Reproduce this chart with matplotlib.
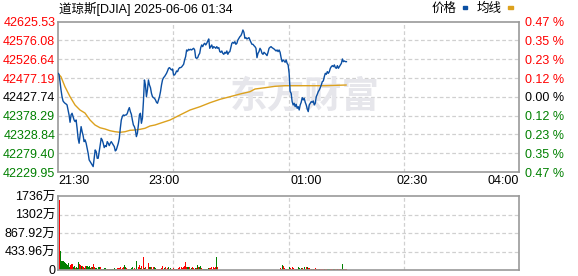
import numpy as np
import matplotlib
matplotlib.use("Agg")
import matplotlib.pyplot as plt
from matplotlib.patches import Rectangle

plt.rcParams['font.family'] = ['Liberation Sans', 'Noto Sans CJK SC', 'DejaVu Sans']

# ==========================================
# 数据
# ==========================================
PREV_CLOSE = 42427.74
SESSION_MIN = 390      # 21:30 -> 04:00
LAST_MIN = 244         # 01:34

price_ticks = [42625.53, 42576.08, 42526.64, 42477.19, 42427.74,
               42378.29, 42328.84, 42279.40, 42229.95]
pct_labels = ["0.47 %", "0.35 %", "0.23 %", "0.12 %", "0.00 %",
              "0.12 %", "0.23 %", "0.35 %", "0.47 %"]
time_labels = ["21:30", "23:00", "01:00", "02:30", "04:00"]
time_label_min = [0, 90, 210, 300, 390]
vol_ticks = [0, 433.96, 867.92, 1301.88, 1735.84]
vol_labels = ["0", "433.96万", "867.92万", "1302万", "1736万"]

price_a = [42489.7, 42487.1, 42467.8, 42445.9, 42428.3, 42416.9, 42413.4, 42410.8, 42409.0, 42406.4,
           42393.2, 42380.1, 42360.8, 42380.1, 42384.5, 42375.7, 42366.9, 42362.6, 42366.9, 42345.0,
           42318.7, 42305.6, 42327.5, 42349.4, 42336.2, 42325.7, 42309.9, 42314.3, 42305.6, 42292.4,
           42279.2, 42261.7, 42257.3, 42252.9, 42248.6, 42244.2, 42266.1, 42288.0, 42283.6, 42266.1,
           42266.1, 42283.6, 42301.2, 42318.7, 42314.3, 42305.6, 42294.2, 42299.4, 42296.8, 42309.9,
           42305.6, 42299.4, 42305.6, 42309.9, 42305.6, 42301.2, 42296.8, 42285.4, 42288.0, 42296.8,
           42305.6, 42318.7, 42345.0, 42366.9, 42375.7, 42380.1, 42378.3, 42380.1, 42380.1, 42384.5,
           42393.2, 42399.4, 42388.9, 42381.9, 42366.9, 42353.8, 42349.4, 42340.6, 42323.1, 42331.9,
           42353.8, 42380.1, 42384.5, 42358.2, 42371.3, 42415.2, 42472.2, 42459.0, 42428.3, 42445.9,
           42472.2]
price_b = [42459.0, 42452.0, 42437.1, 42428.3, 42425.7, 42423.9, 42419.6, 42413.4, 42410.8, 42419.6,
           42428.3, 42441.5, 42459.0, 42472.2, 42478.3, 42481.0, 42485.3, 42489.7, 42495.9, 42502.9,
           42504.6, 42501.1, 42498.5, 42501.1, 42485.3, 42485.3, 42489.7, 42495.9, 42494.1, 42501.1,
           42504.6, 42504.6, 42506.4, 42509.9, 42513.4, 42524.8, 42533.6, 42551.1, 42548.5, 42552.9,
           42551.1, 42552.9, 42551.1, 42553.7, 42555.5, 42551.1, 42530.9, 42529.2, 42530.9, 42538.0,
           42542.3, 42557.3, 42564.3, 42559.9, 42566.0, 42568.7, 42564.3, 42568.7, 42574.8, 42580.1,
           42555.5, 42559.9, 42564.3, 42555.5, 42559.9, 42558.1, 42555.5, 42559.9, 42555.5, 42557.3,
           42546.7, 42545.0, 42548.5, 42542.3, 42539.7, 42545.0, 42542.3, 42548.5, 42539.7, 42545.0,
           42546.7, 42557.3, 42568.7, 42571.3, 42568.7, 42573.0, 42566.0, 42568.7, 42577.4, 42581.8,
           42586.2, 42588.8, 42595.0, 42603.7, 42597.6]
price_c = [42581.8, 42583.6, 42580.1, 42581.8, 42583.6, 42577.4, 42571.3, 42566.0, 42566.0, 42562.5,
           42559.9, 42555.5, 42530.9, 42542.3, 42546.7, 42555.5, 42551.1, 42542.3, 42539.7, 42545.0,
           42542.3, 42539.7, 42536.2, 42545.0, 42555.5, 42558.1, 42559.9, 42557.3, 42555.5, 42553.7,
           42551.1, 42548.5, 42551.1, 42546.7, 42551.1, 42545.0, 42530.9, 42520.4, 42524.8, 42522.2,
           42518.7, 42524.8, 42516.0, 42511.7, 42489.7, 42441.5, 42437.1, 42415.2, 42406.4, 42410.8,
           42402.0, 42408.2, 42397.6, 42402.0, 42393.2, 42406.4, 42413.4, 42425.7, 42419.6, 42423.9,
           42413.4, 42406.4, 42395.9, 42388.9, 42406.4, 42410.8, 42415.2, 42413.4, 42416.9, 42406.4,
           42410.8, 42428.3, 42434.5, 42441.5, 42445.9, 42452.0, 42459.0, 42467.8, 42469.6, 42481.0,
           42489.7, 42487.1, 42494.1, 42489.7, 42494.1, 42502.9, 42507.3, 42509.9, 42507.3, 42511.7,
           42504.6, 42502.9, 42509.9, 42502.9, 42507.3, 42511.7, 42516.0, 42527.4, 42520.4, 42522.2,
           42520.4, 42520.4]

# 均线 (分钟, 价格)
avg_min = [0, 2.5, 5.9, 10.2, 14.4, 18.6, 22.8, 27.1, 31.3, 35.5, 39.8, 44.0, 48.2, 52.5,
           56.7, 60.9, 65.1, 69.4, 73.6, 77.8, 82.1, 86.3, 94.8, 103.2, 111.7, 120.1, 128.6,
           137.1, 145.5, 154.0, 162.4, 166.7, 175.1, 183.6, 192.0, 209.0, 225.9, 243.7]
avg_price = [42489.0, 42480.8, 42454.4, 42428.1, 42406.3, 42393.1, 42385.2, 42366.8, 42353.7,
             42346.5, 42343.1, 42338.6, 42336.0, 42334.4, 42336.0, 42339.7, 42340.5, 42342.3,
             42345.0, 42351.0, 42353.7, 42358.1, 42366.8, 42380.0, 42393.1, 42401.8, 42412.3,
             42421.3, 42428.1, 42435.2, 42441.3, 42448.4, 42451.8, 42455.5, 42457.1, 42457.1,
             42457.1, 42458.9]

# 成交量 (万), r = 上涨 / g = 下跌
vol_a = [1640, 434, 200, 200, 200, 185, 169, 145, 128, 161,
         64, 128, 145, 145, 64, 96, 48, 64, 48, 177,
         145, 112, 88, 88, 64, 48, 96, 88, 96, 80,
         104, 48, 64, 64, 145, 80, 48, 48, 32, 72,
         64, 64, 32, 32, 24, 48, 48, 24, 24, 24,
         16, 24, 16, 32, 24, 48, 24, 16, 48, 48,
         48, 72, 24, 48, 64, 120, 80, 48, 24, 32,
         32, 32, 48, 80, 24, 48, 32, 201, 32, 80,
         128, 48, 88, 32, 313, 48, 64, 32, 32, 169,
         72, 64, 72, 32, 64]
dir_a = ("rggggggggg" "grrrggrggg" "rrgrrgrggg" "ggrgrrggrg" "grgrgggrgr"
         "rgggrgggrr" "rrgrrggrrg" "rgggrrggrr" "rgrrrgrgrr" "ggrgr")
vol_b = [64, 48, 32, 24, 24, 24, 24, 48, 96, 32,
         48, 80, 32, 48, 64, 32, 48, 24, 24, 48,
         32, 24, 32, 32, 48, 64, 32, 64, 48, 64,
         88, 193, 64, 64, 64, 64, 32, 48, 64, 48,
         32, 48, 48, 112, 64, 80, 96, 48, 32, 32,
         24, 24, 24, 24, 48, 48, 40, 64, 24, 64,
         48, 72, 313, 72, 32, 32, 64, 24, 128, 40,
         24, 32, 32, 48, 24, 48, 104, 32, 32, 48,
         24, 80, 32, 32, 64, 32, 24, 24, 32, 48,
         32, 64, 96, 48, 32, 32, 48, 32]
dir_b = ("ggrrrrrrrr" "grrrgrgrrr" "grgrrrgrrr" "rrrggrrgrr" "rgrgrggrrg"
         "gggrgrrrgr" "rrgrrgggrr" "rrrgggrrrg" "grgrrgrrgr" "rgggrrgr")
vol_c = [32, 32, 48, 217, 48, 64, 32, 48, 32, 32,
         24, 24, 32, 145, 48, 217, 80, 48, 24, 96,
         64, 48, 32, 32, 32, 24, 32, 48, 32, 112,
         96, 48, 32, 24, 32, 24, 72, 48, 32, 64,
         48, 32, 24, 32, 24, 64, 48, 24, 48, 48,
         32, 64, 32, 64, 64, 48, 48, 32, 32, 24,
         24, 32, 48, 32, 24, 32, 32, 24, 24, 32,
         24, 32, 24, 32, 24, 32, 24, 32, 24, 32,
         32, 24, 32, 24, 24, 32, 24, 32, 24, 145,
         32, 24, 24, 32]
dir_c = ("grrgrgrggg" "rrrgrrrgrg" "grggrrrrgg" "rrggrrgrgr" "rrggrggrgr"
         "rggrgrrrgr" "grrgrrgrrr" "rgrrgggrrr" "ggrrgrrgrg" "grrr")

# ==========================================
# 绘图
# ==========================================
RED = '#ff0000'
GREEN = '#008000'
GRID = '#d0d0d0'
FRAME = '#999999'

price = np.array(price_a + price_b + price_c)
t_price = np.linspace(0, LAST_MIN, len(price))
volume = np.array(vol_a + vol_b + vol_c)
vol_dir = dir_a + dir_b + dir_c
t_vol = np.linspace(1, LAST_MIN, len(volume))
vol_colors = [RED if d == 'r' else GREEN for d in vol_dir]

fig = plt.figure(figsize=(5.78, 2.76), dpi=100)
ax = fig.add_axes([58 / 578, 1 - 172 / 276, 461 / 578, 150.3 / 276])
axv = fig.add_axes([58 / 578, 1 - 270 / 276, 461 / 578, 74 / 276])

grid_x = [SESSION_MIN * k / 4 for k in (1, 2, 3)]


def style_frame(a):
    for s in a.spines.values():
        s.set_color(FRAME)
        s.set_linewidth(1.2)
    a.set_xlim(0, SESSION_MIN)
    for gx in grid_x:
        a.axvline(gx, color=GRID, lw=0.9, ls=(0, (3, 2)), zorder=0)


# --- 价格图 ---
style_frame(ax)
ax.set_ylim(price_ticks[-1], price_ticks[0])
for v in price_ticks[1:-1]:
    ax.axhline(v, color=GRID, lw=0.9, ls=(0, (3, 2)), zorder=0)

ax.text(0.536, 0.5, "东方财富", transform=ax.transAxes, fontsize=27, color='#e6e6eb',
        ha='center', va='center', fontweight='bold', family='Noto Sans CJK SC', zorder=0)

ax.plot(avg_min, avg_price, color='#dca11d', lw=1.0, zorder=2)
ax.plot(t_price, price, color='#0b4fa3', lw=1.0, zorder=3)

ax.set_yticks(price_ticks)
ax.set_yticklabels([f"{v:.2f}" for v in price_ticks], fontsize=9)
ax.set_xticks(time_label_min)
ax.set_xticklabels(time_labels, fontsize=9)
ax.tick_params(length=0, pad=2)
for lab, v in zip(ax.get_yticklabels(), price_ticks):
    lab.set_color(RED if v > PREV_CLOSE + 0.01 else (GREEN if v < PREV_CLOSE - 0.01 else 'black'))
xl = ax.get_xticklabels()
xl[0].set_ha('left')
xl[-1].set_ha('right')

axr = ax.twinx()
axr.set_ylim(ax.get_ylim())
axr.set_yticks(price_ticks)
axr.set_yticklabels(pct_labels, fontsize=9)
axr.tick_params(length=0, pad=4)
for s in axr.spines.values():
    s.set_visible(False)
for lab, v in zip(axr.get_yticklabels(), price_ticks):
    lab.set_color(RED if v > PREV_CLOSE + 0.01 else (GREEN if v < PREV_CLOSE - 0.01 else 'black'))

# --- 成交量 ---
style_frame(axv)
axv.set_ylim(0, vol_ticks[-1])
for v in vol_ticks[1:-1]:
    axv.axhline(v, color=GRID, lw=0.9, ls=(0, (3, 2)), zorder=0)
axv.bar(t_vol, volume, width=0.62, color=vol_colors, zorder=2, linewidth=0)
axv.set_yticks(vol_ticks)
axv.set_yticklabels(vol_labels, fontsize=9)
axv.set_xticks([])
axv.tick_params(length=0, pad=2)

# --- 标题与图例 ---
fig.text(59 / 578, 1 - 9 / 276, "道琼斯[DJIA] 2025-06-06 01:34", fontsize=9,
         va='center', ha='left')
fig.text(432 / 578, 1 - 9 / 276, "价格", fontsize=9, va='center', ha='left')
fig.text(477 / 578, 1 - 9 / 276, "均线", fontsize=9, va='center', ha='left')
fig.patches.append(Rectangle((462.5 / 578, 1 - 8.5 / 276), 4.5 / 578, 2.5 / 276,
                             transform=fig.transFigure, color='#0b4fa3'))
fig.patches.append(Rectangle((508 / 578, 1 - 8.5 / 276), 4.5 / 578, 2.5 / 276,
                             transform=fig.transFigure, color='#dca11d'))

fig.savefig("out.png", dpi=100, facecolor='white')
